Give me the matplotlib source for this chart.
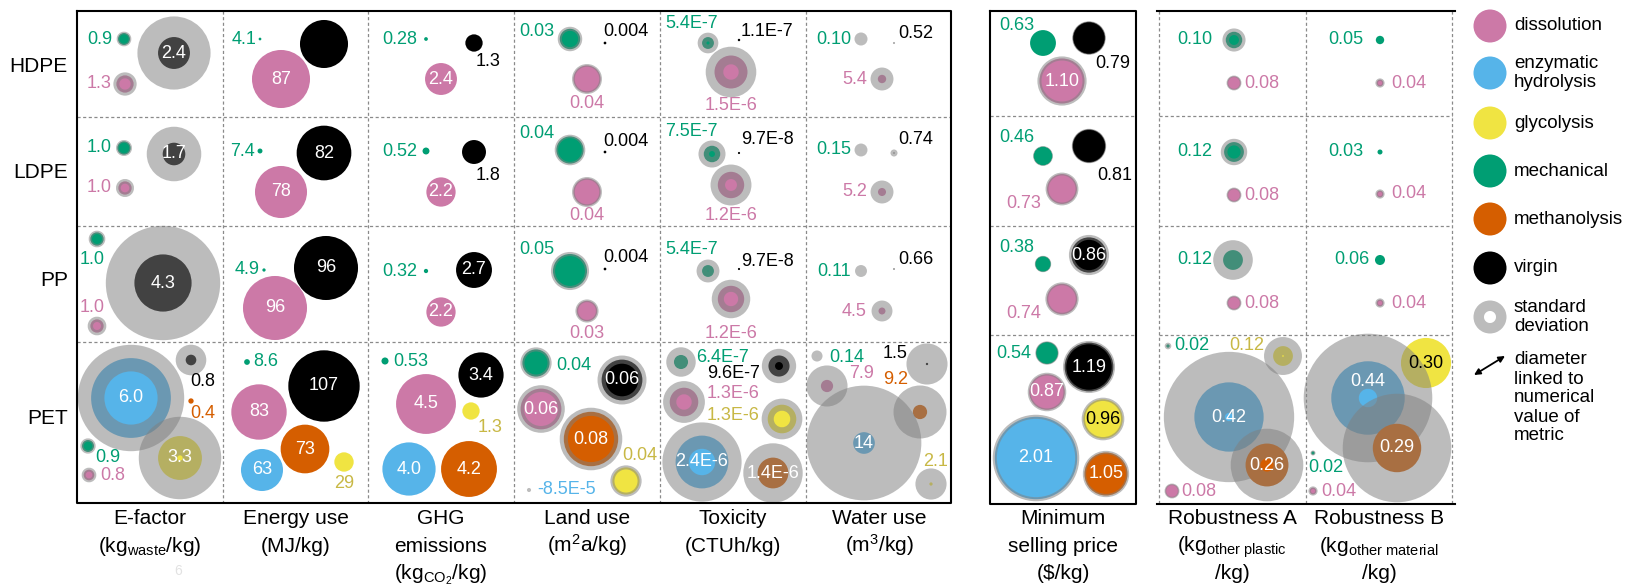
import numpy as np
import matplotlib.pyplot as plt
from matplotlib.patches import Circle, Wedge

plt.rcParams['font.family'] = ['Liberation Sans', 'DejaVu Sans']
plt.rcParams['mathtext.fontset'] = 'custom'
plt.rcParams['mathtext.rm'] = 'Liberation Sans'
plt.rcParams['mathtext.it'] = 'Liberation Sans:italic'
plt.rcParams['mathtext.bf'] = 'Liberation Sans:bold'

# ---- data: (polymer, method, mean, std, printed label) ----
polymers = ['HDPE', 'LDPE', 'PP', 'PET']
methods = ['dissolution', 'enzymatic hydrolysis', 'glycolysis', 'mechanical', 'methanolysis', 'virgin']

e_factor = [
    ('HDPE', 'mechanical', 0.9, 0.2, '0.9'),
    ('HDPE', 'virgin', 2.4, 3.1, '2.4'),
    ('HDPE', 'dissolution', 1.3, 0.45, '1.3'),
    ('LDPE', 'mechanical', 1.0, 0.2, '1.0'),
    ('LDPE', 'virgin', 1.7, 2.4, '1.7'),
    ('LDPE', 'dissolution', 1.0, 0.35, '1.0'),
    ('PP', 'mechanical', 1.0, 0.25, '1.0'),
    ('PP', 'virgin', 4.3, 4.3, '4.3'),
    ('PP', 'dissolution', 1.0, 0.4, '1.0'),
    ('PET', 'enzymatic hydrolysis', 6.0, 2.0, '6.0'),
    ('PET', 'virgin', 0.8, 1.5, '0.8'),
    ('PET', 'methanolysis', 0.4, 0.0, '0.4'),
    ('PET', 'glycolysis', 3.3, 2.9, '3.3'),
    ('PET', 'mechanical', 0.9, 0.25, '0.9'),
    ('PET', 'dissolution', 0.8, 0.3, '0.8'),
]
energy_use = [
    ('HDPE', 'mechanical', 4.1, 0, '4.1'),
    ('HDPE', 'virgin', 72, 0, ''),
    ('HDPE', 'dissolution', 87, 0, '87'),
    ('LDPE', 'mechanical', 7.4, 0, '7.4'),
    ('LDPE', 'virgin', 82, 0, '82'),
    ('LDPE', 'dissolution', 78, 0, '78'),
    ('PP', 'mechanical', 4.9, 0, '4.9'),
    ('PP', 'virgin', 96, 0, '96'),
    ('PP', 'dissolution', 96, 0, '96'),
    ('PET', 'mechanical', 8.6, 0, '8.6'),
    ('PET', 'virgin', 107, 0, '107'),
    ('PET', 'dissolution', 83, 0, '83'),
    ('PET', 'methanolysis', 73, 0, '73'),
    ('PET', 'enzymatic hydrolysis', 63, 0, '63'),
    ('PET', 'glycolysis', 29, 0, '29'),
]
ghg = [
    ('HDPE', 'mechanical', 0.28, 0, '0.28'),
    ('HDPE', 'virgin', 1.3, 0, '1.3'),
    ('HDPE', 'dissolution', 2.4, 0, '2.4'),
    ('LDPE', 'mechanical', 0.52, 0, '0.52'),
    ('LDPE', 'virgin', 1.8, 0, '1.8'),
    ('LDPE', 'dissolution', 2.2, 0, '2.2'),
    ('PP', 'mechanical', 0.32, 0, '0.32'),
    ('PP', 'virgin', 2.7, 0, '2.7'),
    ('PP', 'dissolution', 2.2, 0, '2.2'),
    ('PET', 'mechanical', 0.53, 0, '0.53'),
    ('PET', 'virgin', 3.4, 0, '3.4'),
    ('PET', 'dissolution', 4.5, 0, '4.5'),
    ('PET', 'glycolysis', 1.3, 0, '1.3'),
    ('PET', 'enzymatic hydrolysis', 4.0, 0, '4.0'),
    ('PET', 'methanolysis', 4.2, 0, '4.2'),
]
land_use = [
    ('HDPE', 'mechanical', 0.03, 0.006, '0.03'),
    ('HDPE', 'virgin', 0.004, 0, '0.004'),
    ('HDPE', 'dissolution', 0.04, 0.004, '0.04'),
    ('LDPE', 'mechanical', 0.04, 0.005, '0.04'),
    ('LDPE', 'virgin', 0.004, 0, '0.004'),
    ('LDPE', 'dissolution', 0.04, 0.004, '0.04'),
    ('PP', 'mechanical', 0.05, 0.006, '0.05'),
    ('PP', 'virgin', 0.004, 0, '0.004'),
    ('PP', 'dissolution', 0.03, 0.004, '0.03'),
    ('PET', 'mechanical', 0.04, 0.006, '0.04'),
    ('PET', 'virgin', 0.06, 0.012, '0.06'),
    ('PET', 'dissolution', 0.06, 0.01, '0.06'),
    ('PET', 'methanolysis', 0.08, 0.012, '0.08'),
    ('PET', 'glycolysis', 0.04, 0.006, '0.04'),
    ('PET', 'enzymatic hydrolysis', -8.5e-5, 0.006, '-8.5E-5'),
]
toxicity = [
    ('HDPE', 'mechanical', 5.4e-7, 4e-7, '5.4E-7'),
    ('HDPE', 'virgin', 1.1e-7, 0, '1.1E-7'),
    ('HDPE', 'dissolution', 1.5e-6, 8e-7, '1.5E-6'),
    ('LDPE', 'mechanical', 7.5e-7, 4.8e-7, '7.5E-7'),
    ('LDPE', 'virgin', 9.7e-8, 0, '9.7E-8'),
    ('LDPE', 'dissolution', 1.2e-6, 6.6e-7, '1.2E-6'),
    ('PP', 'mechanical', 5.4e-7, 5e-7, '5.4E-7'),
    ('PP', 'virgin', 9.7e-8, 0, '9.7E-8'),
    ('PP', 'dissolution', 1.2e-6, 5.5e-7, '1.2E-6'),
    ('PET', 'mechanical', 6.4e-7, 7e-7, '6.4E-7'),
    ('PET', 'virgin', 9.6e-7, 6e-7, '9.6E-7'),
    ('PET', 'dissolution', 1.3e-6, 6e-7, '1.3E-6'),
    ('PET', 'glycolysis', 1.3e-6, 5.5e-7, '1.3E-6'),
    ('PET', 'enzymatic hydrolysis', 2.4e-6, 1.2e-6, '2.4E-6'),
    ('PET', 'methanolysis', 1.4e-6, 1.3e-6, '1.4E-6'),
]
water_use = [
    ('HDPE', 'mechanical', 0.10, 8.3, '0.10'),
    ('HDPE', 'virgin', 0.52, 0.8, '0.52'),
    ('HDPE', 'dissolution', 5.4, 9.4, '5.4'),
    ('LDPE', 'mechanical', 0.15, 8.2, '0.15'),
    ('LDPE', 'virgin', 0.74, 3.8, '0.74'),
    ('LDPE', 'dissolution', 5.2, 9.6, '5.2'),
    ('PP', 'mechanical', 0.11, 7.6, '0.11'),
    ('PP', 'virgin', 0.66, 0.6, '0.66'),
    ('PP', 'dissolution', 4.5, 9.0, '4.5'),
    ('PET', 'mechanical', 0.14, 7.0, '0.14'),
    ('PET', 'virgin', 1.5, 25, '1.5'),
    ('PET', 'dissolution', 7.9, 18.6, '7.9'),
    ('PET', 'methanolysis', 9.2, 25, '9.2'),
    ('PET', 'enzymatic hydrolysis', 14, 60, '14'),
    ('PET', 'glycolysis', 2.1, 18, '2.1'),
]
min_price = [
    ('HDPE', 'mechanical', 0.63, 0.0, '0.63'),
    ('HDPE', 'virgin', 0.79, 0.03, '0.79'),
    ('HDPE', 'dissolution', 1.10, 0.1, '1.10'),
    ('LDPE', 'mechanical', 0.46, 0.02, '0.46'),
    ('LDPE', 'virgin', 0.81, 0.03, '0.81'),
    ('LDPE', 'dissolution', 0.73, 0.07, '0.73'),
    ('PP', 'mechanical', 0.38, 0.02, '0.38'),
    ('PP', 'virgin', 0.86, 0.12, '0.86'),
    ('PP', 'dissolution', 0.74, 0.07, '0.74'),
    ('PET', 'mechanical', 0.54, 0.03, '0.54'),
    ('PET', 'virgin', 1.19, 0.08, '1.19'),
    ('PET', 'dissolution', 0.87, 0.07, '0.87'),
    ('PET', 'glycolysis', 0.96, 0.08, '0.96'),
    ('PET', 'enzymatic hydrolysis', 2.01, 0.1, '2.01'),
    ('PET', 'methanolysis', 1.05, 0.08, '1.05'),
]
robustness_a = [
    ('HDPE', 'mechanical', 0.10, 0.04, '0.10'),
    ('HDPE', 'dissolution', 0.08, 0.01, '0.08'),
    ('LDPE', 'mechanical', 0.12, 0.04, '0.12'),
    ('LDPE', 'dissolution', 0.08, 0.01, '0.08'),
    ('PP', 'mechanical', 0.12, 0.12, '0.12'),
    ('PP', 'dissolution', 0.08, 0.01, '0.08'),
    ('PET', 'mechanical', 0.02, 0.02, '0.02'),
    ('PET', 'glycolysis', 0.12, 0.11, '0.12'),
    ('PET', 'enzymatic hydrolysis', 0.42, 0.37, '0.42'),
    ('PET', 'methanolysis', 0.26, 0.18, '0.26'),
    ('PET', 'dissolution', 0.08, 0.01, '0.08'),
]
robustness_b = [
    ('HDPE', 'mechanical', 0.05, 0.0, '0.05'),
    ('HDPE', 'dissolution', 0.04, 0.015, '0.04'),
    ('LDPE', 'mechanical', 0.03, 0.0, '0.03'),
    ('LDPE', 'dissolution', 0.04, 0.015, '0.04'),
    ('PP', 'mechanical', 0.06, 0.0, '0.06'),
    ('PP', 'dissolution', 0.04, 0.015, '0.04'),
    ('PET', 'glycolysis', 0.30, 0.0, '0.30'),
    ('PET', 'enzymatic hydrolysis', 0.44, 0.33, '0.44'),
    ('PET', 'methanolysis', 0.29, 0.36, '0.29'),
    ('PET', 'mechanical', 0.02, 0.01, '0.02'),
    ('PET', 'dissolution', 0.04, 0.015, '0.04'),
]

metric_data = [e_factor, energy_use, ghg, land_use, toxicity, water_use,
               min_price, robustness_a, robustness_b]
metric_titles = [
    ['E-factor', r'(kg$_{\mathrm{waste}}$/kg)'],
    ['Energy use', '(MJ/kg)'],
    ['GHG', 'emissions', r'(kg$_{\mathrm{CO_2}}$/kg)'],
    ['Land use', r'(m$^{\mathrm{2}}$a/kg)'],
    ['Toxicity', '(CTUh/kg)'],
    ['Water use', r'(m$^{\mathrm{3}}$/kg)'],
    ['Minimum', 'selling price', r'(\$/kg)'],
    ['Robustness A', r'(kg$_{\mathrm{other\ plastic}}$', '/kg)'],
    ['Robustness B', r'(kg$_{\mathrm{other\ material}}$', '/kg)'],
]

# ---- styling / layout ----
fill = {'dissolution': '#CC79A7', 'enzymatic hydrolysis': '#56B4E9', 'glycolysis': '#F0E442',
        'mechanical': '#009E73', 'methanolysis': '#D55E00', 'virgin': 'black'}
text_col = dict(fill)
text_col['glycolysis'] = '#C8B845'

# diameter in px per unit, one scale per metric
scales = [13.3, 0.667, 13.3, 680, 2.2e7, 1.55, 41, 165, 167]
col_x = [77, 223, 368, 514, 660, 806, 990, 1159, 1306]
col_w = 146
panel_of = [0, 0, 0, 0, 0, 0, 1, 2, 2]
row_tops = {0: [11, 117, 226, 342], 1: [11, 116, 226, 335], 2: [11, 116, 226, 335]}
bottom = 503

# bubble centre and label anchor relative to the cell's top-left corner (px)
IN = (None, None, 'in')
layouts = [
    [(47, 28, 35, 28, 'right'), (97, 42) + IN, (48, 73, 35, 73, 'right'),
     (47, 31, 35, 31, 'right'), (97, 37) + IN, (48, 71, 35, 71, 'right'),
     (20, 13, 15, 34, 'center'), (86, 57) + IN, (20, 100, 15, 81, 'center'),
     (54, 56) + IN, (114, 18, 126, 40, 'center'), (114, 59, 126, 71, 'center'),
     (103, 116) + IN, (11, 104, 31, 115, 'center'), (12, 133, 23, 133, 'left')],
    [(37, 28, 34, 28, 'right'), (101, 33) + IN, (58, 68) + IN,
     (37, 34, 32, 34, 'right'), (101, 36) + IN, (58, 75) + IN,
     (41, 44, 37, 44, 'right'), (103, 42) + IN, (52, 82) + IN,
     (24, 20, 30, 20, 'left'), (101, 44) + IN, (36, 70) + IN, (82, 107) + IN,
     (39, 128) + IN, (121, 120, 121, 141, 'center')],
    [(58, 28, 49, 28, 'right'), (106, 32, 120, 50, 'center'), (73, 68) + IN,
     (58, 34, 49, 34, 'right'), (106, 35, 120, 58, 'center'), (73, 75) + IN,
     (58, 45, 49, 45, 'right'), (106, 44) + IN, (73, 86) + IN,
     (17, 19, 25, 19, 'left'), (113, 33) + IN, (58, 62) + IN,
     (103, 69, 122, 86, 'center'), (41, 127) + IN, (101, 127) + IN],
    [(56, 28, 5, 20, 'left'), (91, 32, 89, 20, 'left'), (73, 68, 73, 92, 'center'),
     (56, 33, 5, 16, 'left'), (91, 35, 89, 25, 'left'), (73, 75, 73, 99, 'center'),
     (56, 45, 5, 23, 'left'), (91, 43, 89, 31, 'left'), (73, 85, 73, 107, 'center'),
     (22, 21, 42, 24, 'left'), (108, 38) + IN, (27, 67) + IN, (77, 97) + IN,
     (112, 139, 126, 113, 'center'), (15, 148, 23, 148, 'left')],
    [(48, 32, 5, 12, 'left'), (79, 29, 81, 20, 'left'), (71, 61, 71, 95, 'center'),
     (52, 37, 5, 14, 'left'), (79, 36, 81, 23, 'left'), (71, 68, 71, 99, 'center'),
     (48, 45, 5, 23, 'left'), (79, 43, 81, 36, 'left'), (71, 73, 71, 107, 'center'),
     (21, 20, 36, 15, 'left'), (119, 24, 47, 32, 'left'), (24, 60, 47, 52, 'left'),
     (122, 77, 47, 73, 'left'), (42, 120) + IN, (113, 131) + IN],
    [(55, 28, 45, 28, 'right'), (88, 32, 92, 23, 'left'), (76, 68, 61, 68, 'right'),
     (55, 33, 45, 33, 'right'), (88, 36, 92, 22, 'left'), (76, 75, 61, 75, 'right'),
     (55, 45, 45, 45, 'right'), (88, 43, 92, 34, 'left'), (76, 85, 61, 85, 'right'),
     (11, 14, 23, 15, 'left'), (121, 22, 77, 12, 'left'), (21, 44, 43, 31, 'left'),
     (114, 70, 77, 38, 'left'), (58, 101) + IN, (125, 142, 130, 120, 'center')],
    [(53, 32, 9, 14, 'left'), (99, 27, 105, 53, 'left'), (72, 70) + IN,
     (53, 40, 9, 22, 'left'), (99, 30, 107, 60, 'left'), (72, 73, 16, 88, 'left'),
     (53, 38, 9, 22, 'left'), (99, 29) + IN, (72, 73, 16, 87, 'left'),
     (57, 18, 6, 18, 'left'), (99, 32) + IN, (57, 57) + IN, (113, 84) + IN,
     (46, 123) + IN, (116, 139) + IN],
    [(75, 29, 53, 29, 'right'), (75, 72, 85, 72, 'left'),
     (75, 36, 53, 36, 'right'), (75, 79, 85, 79, 'left'),
     (74, 34, 53, 34, 'right'), (75, 77, 85, 77, 'left'),
     (9, 11, 15, 11, 'left'), (124, 21, 88, 10, 'center'), (70, 82) + IN,
     (108, 130) + IN, (13, 156, 22, 156, 'left')],
    [(74, 29, 57, 29, 'right'), (74, 72, 85, 72, 'left'),
     (74, 36, 57, 36, 'right'), (74, 78, 85, 78, 'left'),
     (74, 34, 64, 34, 'right'), (74, 77, 85, 77, 'left'),
     (120, 28) + IN, (62, 63, 62, 46, 'in'), (91, 113) + IN,
     (7, 118, 2, 133, 'left'), (7, 156, 15, 156, 'left')],
]

fig = plt.figure(figsize=(16.27, 5.85), dpi=100)
ax = fig.add_axes([0, 0, 1, 1])
ax.set_xlim(0, 1627)
ax.set_ylim(585, 0)
ax.axis('off')

GRAY = '#808080'
GALPHA = 0.52


def bubble(x, y, mean, sd, scale, color, z):
    r = max(mean, 0) * scale / 2
    if r > 0:
        ax.add_patch(Circle((x, y), r, facecolor=color, edgecolor='none', zorder=z))
    r_out = (max(mean, 0) + sd) * scale / 2
    r_in = max(mean - sd, 0) * scale / 2
    if r_out - r_in > 0.3:
        if r_in <= 0:
            ax.add_patch(Circle((x, y), r_out, facecolor=GRAY, alpha=GALPHA,
                                edgecolor='none', zorder=z + 0.5))
        else:
            ax.add_patch(Wedge((x, y), r_out, 0, 360, width=r_out - r_in, facecolor=GRAY,
                               alpha=GALPHA, edgecolor='none', zorder=z + 0.5))


z = 1
for m, rows in enumerate(metric_data):
    tops = row_tops[panel_of[m]]
    for (poly, meth, mean, sd, lab), (cx, cy, lx, ly, ha) in zip(rows, layouts[m]):
        x0 = col_x[m]
        y0 = tops[polymers.index(poly)]
        bubble(x0 + cx, y0 + cy, mean, sd, scales[m], fill[meth], z)
        z += 1
        if ha == 'in':
            tc = 'black' if (meth == 'glycolysis' and sd < mean / 2) else 'white'
            tx = x0 + (cx if lx is None else lx)
            ty = y0 + (cy if ly is None else ly)
            ax.text(tx, ty, lab, color=tc, fontsize=13, ha='center', va='center', zorder=500)
        else:
            ax.text(x0 + lx, y0 + ly, lab, color=text_col[meth], fontsize=13,
                    ha=ha, va='center', zorder=500)

# ---- frames and grid ----
dash = dict(color='#8a8a8a', lw=0.9, linestyle=(0, (2.5, 2)), zorder=0.5)
solid = dict(color='black', lw=1.5, zorder=600)

# panel 1
for x in col_x[1:6]:
    ax.plot([x, x], [11, bottom], **dash)
for y in row_tops[0][1:]:
    ax.plot([77, 951], [y, y], **dash)
ax.plot([77, 951, 951, 77, 77], [11, 11, bottom, bottom, 11], **solid)
# panel 2
for y in row_tops[1][1:]:
    ax.plot([990, 1136], [y, y], **dash)
ax.plot([990, 1136, 1136, 990, 990], [11, 11, bottom + 1, bottom + 1, 11], **solid)
# panel 3
for x in [1159, 1306, 1452]:
    ax.plot([x, x], [11, bottom + 1], **dash)
for y in row_tops[2][1:]:
    ax.plot([1159, 1452], [y, y], **dash)
ax.plot([1157, 1455], [11, 11], **solid)
ax.plot([1157, 1455], [bottom + 1, bottom + 1], **solid)

# ---- row labels ----
for poly, yc in zip(polymers, [66, 173, 280, 419]):
    ax.text(68, yc, poly, fontsize=15, ha='right', va='center')

# ---- column titles ----
baselines = [524, 552, 579]
for m, lines in enumerate(metric_titles):
    xc = col_x[m] + col_w / 2
    for i, line in enumerate(lines):
        ax.text(xc, baselines[i], line, fontsize=15, ha='center', va='baseline')
ax.text(178, 571, '6', fontsize=10, color='#e2e2e2', ha='center', va='center')

# ---- legend ----
leg_x, leg_r, leg_tx = 1490, 16.5, 1514
leg_y = [26, 73, 123, 171, 219, 268]
leg_labels = [['dissolution'], ['enzymatic', 'hydrolysis'], ['glycolysis'],
              ['mechanical'], ['methanolysis'], ['virgin']]
for meth, yc, lines in zip(methods, leg_y, leg_labels):
    ax.add_patch(Circle((leg_x, yc), leg_r, facecolor=fill[meth], edgecolor='none'))
    off = (len(lines) - 1) * 9.5
    for i, line in enumerate(lines):
        ax.text(leg_tx, yc - off + i * 19, line, fontsize=13.5, ha='left', va='center')
ax.add_patch(Wedge((leg_x, 317), leg_r, 0, 360, width=leg_r - 6, facecolor=GRAY,
                   alpha=GALPHA, edgecolor='none'))
ax.text(leg_tx, 307.5, 'standard', fontsize=13.5, ha='left', va='center')
ax.text(leg_tx, 326.5, 'deviation', fontsize=13.5, ha='left', va='center')
ax.annotate('', xy=(1505, 356), xytext=(1474, 375),
            arrowprops=dict(arrowstyle='<|-|>', color='black', lw=1.3,
                            mutation_scale=9, shrinkA=0, shrinkB=0))
for i, line in enumerate(['diameter', 'linked to', 'numerical', 'value of', 'metric']):
    ax.text(leg_tx, 360 + i * 19, line, fontsize=13.5, ha='left', va='center')

fig.savefig('out.png', dpi=100)
